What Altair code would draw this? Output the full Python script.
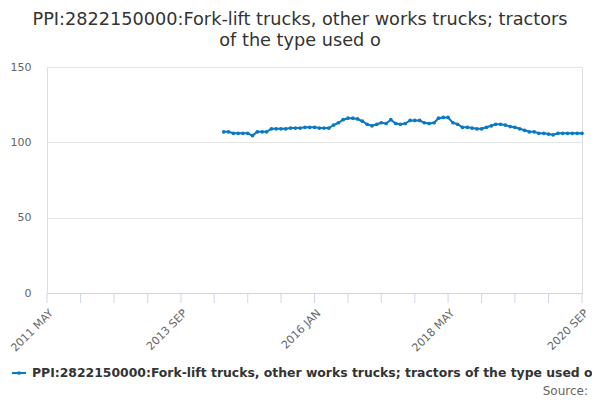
import altair as alt
import pandas as pd

start_year, start_month = 2014, 6
values = [
    107, 107, 106, 106, 106, 106, 104.5, 107, 107, 107,
    109, 109, 109, 109, 109.5, 109.5, 109.5, 110, 110, 110,
    109.5, 109.5, 109.5, 111.5, 113, 115, 116, 116, 115.5, 114,
    112, 111, 112, 113, 112.5, 115, 112.5, 112, 112.5, 114.5,
    114.5, 114.5, 113, 112.5, 113, 116, 116.5, 116.5, 113, 112,
    110, 110, 109.5, 109, 109, 110, 111, 112, 112, 111.5,
    110.5, 110, 109, 108, 107, 107, 106, 106, 105.5, 105,
    106, 106, 106, 106, 106, 106,
]
dates = []
y, m = start_year, start_month
for _ in values:
    dates.append(f"{y:04d}-{m:02d}-01")
    m += 1
    if m > 12:
        m = 1
        y += 1

series_name = "PPI:2822150000:Fork-lift trucks, other works trucks; tractors of the type used o"
title_lines = ["PPI:2822150000:Fork-lift trucks, other works trucks; tractors", "of the type used o"]
label_dates = ["2011 MAY", "2013 SEP", "2016 JAN", "2018 MAY", "2020 SEP"]
y_ticks = [0, 50, 100, 150]

# tick positions every 7 months from May 2011
tick_vals = []
tick_strs = []
ty, tm = 2011, 5
for _ in range(17):
    tick_vals.append(alt.DateTime(year=ty, month=tm, date=1, utc=True))
    tick_strs.append(f"{ty:04d}-{tm:02d}-01")
    tm += 7
    while tm > 12:
        tm -= 12
        ty += 1

df = pd.DataFrame({"date": dates, "value": values, "series": series_name})
tick_df = pd.DataFrame({"date": tick_strs})

color = "#0a78c2"
FONT = "DejaVu Sans"

lab_list = ",".join(f"'{s}'" for s in label_dates)
label_expr = (
    f"indexof([{lab_list}], upper(utcFormat(datum.value, '%Y %b'))) >= 0 ? "
    "upper(utcFormat(datum.value, '%Y %b')) : ''"
)

x_scale = alt.Scale(
    type="utc",
    domain=[alt.DateTime(year=2011, month=5, date=1, utc=True),
            alt.DateTime(year=2020, month=9, date=1, utc=True)],
)
x_enc = alt.X(
    "date:T",
    scale=x_scale,
    axis=alt.Axis(
        values=tick_vals,
        labelExpr=label_expr,
        labelAngle=-45,
        labelAlign="right",
        labelBaseline="top",
        labelFontSize=11,
        labelColor="#666666",
        labelFont=FONT,
        labelOverlap=False,
        labelPadding=14,
        ticks=False,
        domainColor="#ccd6eb",
        grid=False,
        title=None,
    ),
)
y_enc = alt.Y(
    "value:Q",
    scale=alt.Scale(domain=[0, 150], nice=False),
    axis=alt.Axis(
        values=y_ticks,
        grid=True,
        gridColor="#e6e6e6",
        domain=False,
        ticks=False,
        labelFontSize=11,
        labelColor="#666666",
        labelFont=FONT,
        labelPadding=16,
        title=None,
    ),
)

base = alt.Chart(df)
line = base.mark_line(color=color, strokeWidth=2).encode(x=x_enc, y=y_enc)
pts = base.mark_point(color=color, filled=True, size=14, opacity=1).encode(x="date:T", y="value:Q")

ticks = alt.Chart(tick_df).mark_rule(color="#ccd6eb", strokeWidth=1).encode(
    x=alt.X("date:T"), y=alt.value(226), y2=alt.value(236)
)

title_df = pd.DataFrame({"t": title_lines, "yy": [-47, -26]})
title = alt.Chart(title_df).mark_text(
    font=FONT, fontSize=17.7, color="#333333", align="center", baseline="middle"
).encode(text="t:N", x=alt.value(253), y=alt.Y("yy:Q", scale=None))

leg_df = pd.DataFrame({"t": [series_name]})
leg_text = alt.Chart(leg_df).mark_text(
    font=FONT, fontSize=12.4, fontWeight="bold", color="#333333", align="left", baseline="middle"
).encode(text="t:N", x=alt.value(-15), y=alt.value(306))
leg_line = alt.Chart(leg_df).mark_rule(color=color, strokeWidth=2).encode(
    x=alt.value(-35), x2=alt.value(-21), y=alt.value(306)
)
leg_pt = alt.Chart(leg_df).mark_point(color=color, filled=True, size=14, opacity=1).encode(
    x=alt.value(-28), y=alt.value(306)
)
src_df = pd.DataFrame({"t": ["Source:"]})
src = alt.Chart(src_df).mark_text(
    font=FONT, fontSize=12, color="#666666", align="right", baseline="middle"
).encode(text="t:N", x=alt.value(541), y=alt.value(323.5))

chart = alt.layer(ticks, line, pts, title, leg_line, leg_pt, leg_text, src).properties(
    width=535,
    height=226,
    padding={"left": 39, "top": 59, "right": 10, "bottom": 106},
    autosize="none",
).configure_view(stroke=None).configure(background="white")

chart.save("out.html", embed_options={"renderer": "svg", "actions": False})
